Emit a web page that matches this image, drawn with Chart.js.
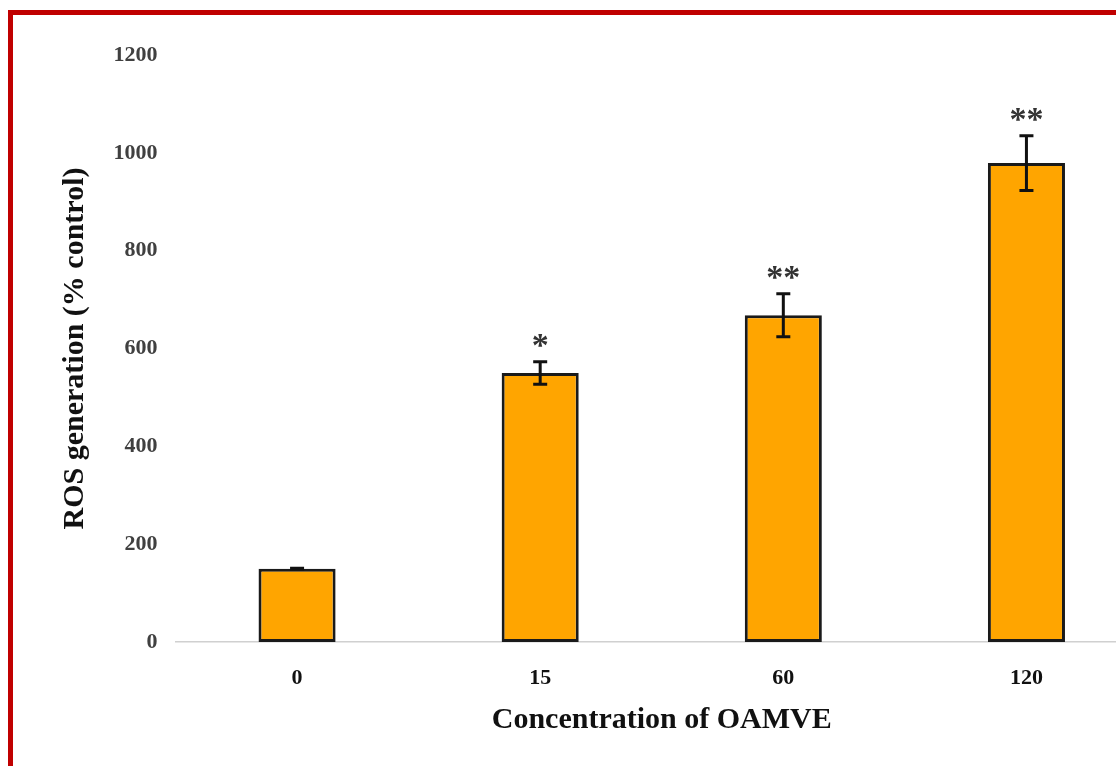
<!DOCTYPE html>
<html>
<head>
<meta charset="utf-8">
<script src="https://cdn.jsdelivr.net/npm/chart.js@4"></script>
<style>
    html, body { margin: 0; padding: 0; background: #fff; overflow: hidden; }
    #frame {
        position: absolute; left: 8px; top: 10px; width: 1200px; height: 800px;
        border-top: 5px solid #c00000; border-left: 5px solid #c00000;
        pointer-events: none;
    }
    #chart { position: absolute; left: 0; top: 0; }
</style>
</head>
<body>
<canvas id="chart" width="1160" height="766"></canvas>
<div id="frame"></div>
<script>
// Data
const categories = ['0', '15', '60', '120'];
const rosValues = [150, 550, 668, 979];
const rosErrors = [1, 23, 44, 56];
const significance = ['', '*', '**', '**'];
const yTicks = [0, 200, 400, 600, 800, 1000, 1200];

// Error bars and asterisks on top of the bars
const errorBarPlugin = {
    id: 'errorBars',
    afterDatasetsDraw(chart) {
        const ctx = chart.ctx;
        const meta = chart.getDatasetMeta(0);
        const yScale = chart.scales.y;
        ctx.save();
        for (let i = 0; i < rosValues.length; i++) {
            const x = meta.data[i].x;
            const yTop = yScale.getPixelForValue(rosValues[i] + rosErrors[i]);
            const yBot = yScale.getPixelForValue(rosValues[i] - rosErrors[i]);
            ctx.strokeStyle = '#111';
            ctx.lineWidth = 3;
            ctx.beginPath();
            ctx.moveTo(x, yTop);
            ctx.lineTo(x, yBot);
            ctx.moveTo(x - 7, yTop);
            ctx.lineTo(x + 7, yTop);
            ctx.moveTo(x - 7, yBot);
            ctx.lineTo(x + 7, yBot);
            ctx.stroke();

            if (significance[i]) {
                ctx.fillStyle = '#333';
                ctx.font = 'bold 34px "Liberation Serif", "DejaVu Serif", serif';
                ctx.textAlign = 'center';
                ctx.textBaseline = 'alphabetic';
                ctx.fillText(significance[i], x, yTop - 6);
            }
        }
        ctx.restore();
    }
};

const serif = '"Liberation Serif", "DejaVu Serif", serif';

new Chart(document.getElementById('chart').getContext('2d'), {
    type: 'bar',
    data: {
        labels: categories,
        datasets: [{
            data: rosValues,
            backgroundColor: '#ffa500',
            borderColor: '#1a1a1a',
            borderWidth: 3,
            borderSkipped: false,
            barPercentage: 0.317,
            categoryPercentage: 1
        }]
    },
    options: {
        responsive: false,
        animation: false,
        layout: { padding: { left: 0, top: 55, right: 12, bottom: 0 } },
        plugins: {
            legend: { display: false },
            tooltip: { enabled: false }
        },
        scales: {
            x: {
                grid: { display: false },
                border: { display: true, color: '#d0d0d0', width: 1.5 },
                ticks: {
                    color: '#111',
                    padding: 15,
                    font: { family: serif, size: 22, weight: 'bold' }
                },
                title: {
                    display: true,
                    text: 'Concentration of OAMVE',
                    color: '#111',
                    font: { family: serif, size: 30, weight: 'bold' },
                    padding: { top: 0, bottom: 28 }
                },
                afterFit(scale) { scale.height = 124; }
            },
            y: {
                min: 0,
                max: 1200,
                grid: { display: false, drawTicks: false },
                border: { display: false },
                afterBuildTicks(scale) {
                    scale.ticks = yTicks.map(v => ({ value: v }));
                },
                ticks: {
                    color: '#404040',
                    padding: 18,
                    font: { family: serif, size: 22, weight: 'bold' },
                    callback: (value) => String(value)
                },
                title: {
                    display: true,
                    text: 'ROS generation (% control)',
                    color: '#111',
                    font: { family: serif, size: 30, weight: 'bold' },
                    padding: { top: 57, bottom: 0 }
                },
                afterFit(scale) { scale.width = 175.5; }
            }
        }
    },
    plugins: [errorBarPlugin]
});
</script>
</body>
</html>
